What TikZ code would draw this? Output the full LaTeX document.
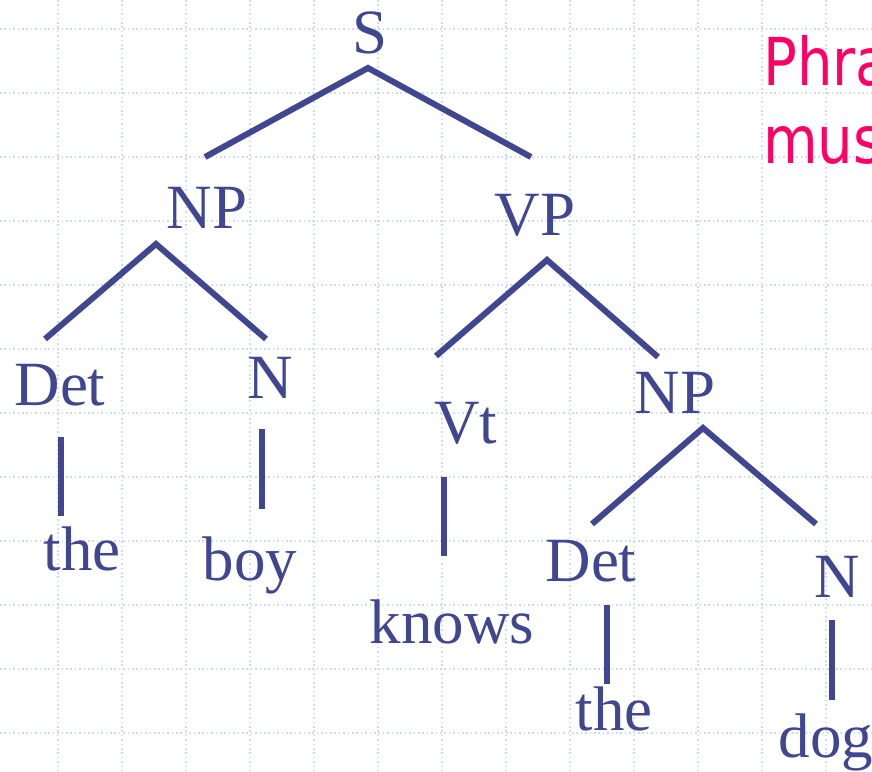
\documentclass[tikz,border=0pt]{standalone}
\usepackage{fontspec}
\setmainfont{Liberation Serif}
\newfontfamily\pinkfont[FakeStretch=0.85]{DejaVu Sans}
\definecolor{treeblue}{RGB}{64,70,144}
\definecolor{gridblue}{RGB}{205,216,250}
\definecolor{hotpink}{RGB}{255,0,102}
\begin{document}
\begin{tikzpicture}[x=1pt,y=-1pt,
  lbl/.style={font=\fontsize{63}{63}\selectfont, text=treeblue, inner sep=0pt, anchor=base},
  branch/.style={draw=treeblue, line width=6pt},
  gridline/.style={draw=gridblue, line width=1.6pt, dash pattern=on 1.6pt off 2.8pt},
  pinktext/.style={font=\pinkfont\fontsize{66}{66}\selectfont, text=hotpink, inner sep=0pt, anchor=base west}]
\useasboundingbox (0,0) rectangle (872,771);
\clip (0,0) rectangle (872,771);
\fill[white] (0,0) rectangle (872,771);
\foreach \gx in {58,122,...,826} \draw[gridline] (\gx,0) -- (\gx,771);
\foreach \gy in {29,93,...,733} \draw[gridline] (0,\gy) -- (872,\gy);

% labels
\node[lbl] (S) at (370,53) {S};
\node[lbl] (NPa) at (207,228) {NP};
\node[lbl] (VP) at (535,235) {VP};
\node[lbl] (DetA) at (60,405) {Det};
\node[lbl] (NA) at (270,398) {N};
\node[lbl] (Vt) at (466,443) {Vt};
\node[lbl] (NPb) at (675,413) {NP};
\node[lbl] (DetB) at (591,581) {Det};
\node[lbl] (NB) at (837,597) {N};
\node[lbl] (theA) at (82,570) {the};
\node[lbl] (boy) at (250,580) {boy};
\node[lbl] (knows) at (452,643) {knows};
\node[lbl] (theB) at (614,730) {the};
\node[lbl] (dog) at (826,757) {dog};

\node[pinktext] (title1) at (763,85) {Phra};
\node[pinktext] (title2) at (763,163) {mus};

% branch end points
\coordinate (S-root) at (368,68);
\coordinate (NPa-up) at (205,157);
\coordinate (VP-up) at (531,157);
\coordinate (NPa-root) at (156,244);
\coordinate (DetA-up) at (45,339);
\coordinate (NA-up) at (266,339);
\coordinate (VP-root) at (547,260);
\coordinate (Vt-up) at (436,356);
\coordinate (NPb-up) at (658,357);
\coordinate (NPb-root) at (703,428);
\coordinate (DetB-up) at (592,524);
\coordinate (NB-up) at (816,524);
\coordinate (DetA-down) at (61,437);
\coordinate (theA-up) at (61,516);
\coordinate (NA-down) at (262,429);
\coordinate (boy-up) at (262,509);
\coordinate (Vt-down) at (444,477);
\coordinate (knows-up) at (444,556);
\coordinate (DetB-down) at (607,605);
\coordinate (theB-up) at (607,684);
\coordinate (NB-down) at (832,620);
\coordinate (dog-up) at (832,700);

% branches
\draw[branch] (NPa-up) -- (S-root) -- (VP-up);
\draw[branch] (DetA-up) -- (NPa-root) -- (NA-up);
\draw[branch] (Vt-up) -- (VP-root) -- (NPb-up);
\draw[branch] (DetB-up) -- (NPb-root) -- (NB-up);
\draw[branch] (DetA-down) -- (theA-up);
\draw[branch] (NA-down) -- (boy-up);
\draw[branch] (Vt-down) -- (knows-up);
\draw[branch] (DetB-down) -- (theB-up);
\draw[branch] (NB-down) -- (dog-up);
\end{tikzpicture}
\end{document}
